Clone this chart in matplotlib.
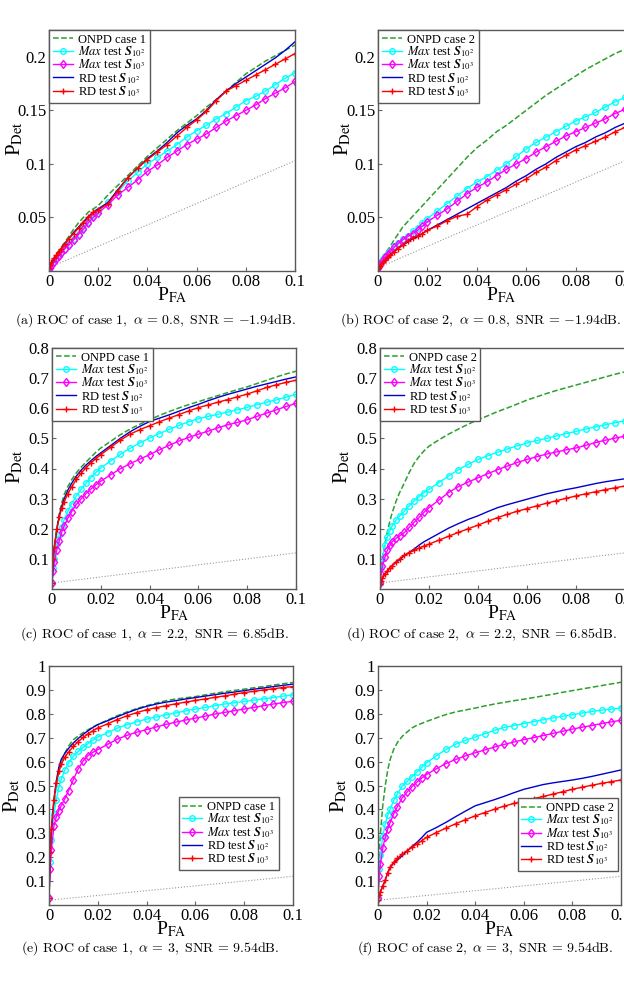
import matplotlib
matplotlib.use('Agg')
import matplotlib.pyplot as plt

plt.rcParams['font.family'] = ['Liberation Serif', 'DejaVu Serif']
plt.rcParams['mathtext.fontset'] = 'stix'

# false alarm probability grid (shared by every curve)
pfa = [0, 0.0005, 0.001, 0.002, 0.003, 0.004, 0.005, 0.0065, 0.008, 0.01, 0.012, 0.014,
       0.016, 0.018, 0.02, 0.024, 0.028, 0.032, 0.036, 0.04, 0.044, 0.048, 0.052, 0.056,
       0.06, 0.064, 0.068, 0.072, 0.076, 0.08, 0.084, 0.088, 0.092, 0.096, 0.1]

# (a) case 1, alpha = 0.8
onpd_a = [0.003, 0.006, 0.008, 0.012, 0.016, 0.019, 0.022, 0.027, 0.032, 0.039, 0.045, 0.050,
          0.055, 0.058, 0.061, 0.071, 0.080, 0.089, 0.098, 0.107, 0.115, 0.123, 0.131, 0.138,
          0.145, 0.153, 0.160, 0.168, 0.176, 0.184, 0.190, 0.196, 0.201, 0.206, 0.211]
max2_a = [0.002, 0.004, 0.006, 0.009, 0.012, 0.015, 0.018, 0.021, 0.025, 0.030, 0.035, 0.040,
          0.046, 0.051, 0.056, 0.064, 0.074, 0.084, 0.092, 0.100, 0.106, 0.112, 0.118, 0.125,
          0.131, 0.136, 0.142, 0.147, 0.153, 0.159, 0.163, 0.168, 0.174, 0.180, 0.185]
max3_a = [0.002, 0.003, 0.005, 0.008, 0.011, 0.014, 0.017, 0.021, 0.024, 0.029, 0.034, 0.039,
          0.045, 0.050, 0.054, 0.062, 0.071, 0.078, 0.085, 0.093, 0.099, 0.106, 0.112, 0.118,
          0.123, 0.128, 0.134, 0.140, 0.145, 0.150, 0.155, 0.161, 0.166, 0.171, 0.177]
rd2_a = [0.003, 0.005, 0.007, 0.011, 0.015, 0.018, 0.021, 0.026, 0.030, 0.036, 0.041, 0.046,
         0.051, 0.055, 0.058, 0.064, 0.076, 0.087, 0.096, 0.105, 0.112, 0.120, 0.129, 0.136,
         0.142, 0.150, 0.160, 0.168, 0.175, 0.181, 0.187, 0.193, 0.199, 0.206, 0.214]
rd3_a = [0.003, 0.006, 0.008, 0.012, 0.015, 0.018, 0.021, 0.025, 0.030, 0.035, 0.040, 0.045,
         0.050, 0.055, 0.057, 0.063, 0.075, 0.087, 0.096, 0.104, 0.111, 0.118, 0.126, 0.134,
         0.141, 0.149, 0.159, 0.168, 0.173, 0.178, 0.183, 0.188, 0.193, 0.198, 0.203]

# (b) case 2, alpha = 0.8
onpd_b = [0.005, 0.008, 0.010, 0.013, 0.017, 0.020, 0.023, 0.029, 0.034, 0.041, 0.046, 0.051,
          0.056, 0.061, 0.066, 0.076, 0.086, 0.096, 0.106, 0.115, 0.122, 0.130, 0.136, 0.143,
          0.150, 0.157, 0.164, 0.170, 0.176, 0.182, 0.188, 0.193, 0.198, 0.203, 0.207]
max2_b = [0.004, 0.006, 0.008, 0.011, 0.014, 0.017, 0.019, 0.023, 0.026, 0.030, 0.033, 0.037,
          0.040, 0.045, 0.049, 0.056, 0.063, 0.070, 0.077, 0.083, 0.088, 0.094, 0.100, 0.107,
          0.114, 0.120, 0.125, 0.130, 0.135, 0.140, 0.144, 0.148, 0.153, 0.158, 0.162]
max3_b = [0.003, 0.005, 0.007, 0.010, 0.013, 0.016, 0.018, 0.022, 0.025, 0.029, 0.032, 0.035,
          0.038, 0.042, 0.046, 0.052, 0.058, 0.065, 0.072, 0.078, 0.083, 0.089, 0.095, 0.100,
          0.105, 0.111, 0.116, 0.121, 0.126, 0.130, 0.134, 0.138, 0.142, 0.147, 0.151]
rd2_b = [0.003, 0.004, 0.005, 0.008, 0.010, 0.013, 0.015, 0.018, 0.021, 0.024, 0.027, 0.030,
         0.032, 0.035, 0.038, 0.043, 0.048, 0.053, 0.058, 0.063, 0.068, 0.073, 0.078, 0.084,
         0.089, 0.095, 0.100, 0.106, 0.111, 0.116, 0.120, 0.125, 0.129, 0.134, 0.138]
rd3_b = [0.003, 0.004, 0.005, 0.008, 0.010, 0.013, 0.015, 0.018, 0.021, 0.024, 0.028, 0.031,
         0.033, 0.035, 0.038, 0.042, 0.047, 0.051, 0.053, 0.060, 0.066, 0.071, 0.076, 0.081,
         0.086, 0.092, 0.097, 0.103, 0.108, 0.113, 0.117, 0.121, 0.125, 0.130, 0.134]

# (c) case 1, alpha = 2.2
onpd_c = [0.02, 0.10, 0.14, 0.20, 0.25, 0.285, 0.314, 0.340, 0.362, 0.386, 0.405, 0.422,
          0.438, 0.454, 0.468, 0.490, 0.512, 0.531, 0.547, 0.562, 0.576, 0.589, 0.601, 0.612,
          0.622, 0.632, 0.642, 0.652, 0.662, 0.671, 0.682, 0.693, 0.704, 0.714, 0.723]
max2_c = [0.02, 0.07, 0.10, 0.15, 0.18, 0.205, 0.23, 0.258, 0.282, 0.309, 0.332, 0.352,
          0.370, 0.387, 0.402, 0.425, 0.447, 0.467, 0.485, 0.501, 0.516, 0.530, 0.543, 0.555,
          0.565, 0.573, 0.580, 0.587, 0.595, 0.603, 0.612, 0.620, 0.628, 0.637, 0.646]
max3_c = [0.02, 0.06, 0.09, 0.13, 0.16, 0.19, 0.210, 0.235, 0.256, 0.281, 0.300, 0.317,
          0.332, 0.346, 0.358, 0.379, 0.399, 0.416, 0.431, 0.446, 0.462, 0.477, 0.491, 0.503,
          0.514, 0.524, 0.535, 0.545, 0.553, 0.562, 0.573, 0.584, 0.595, 0.606, 0.616]
rd2_c = [0.02, 0.10, 0.14, 0.20, 0.245, 0.275, 0.300, 0.328, 0.350, 0.375, 0.395, 0.412,
         0.426, 0.440, 0.452, 0.476, 0.500, 0.522, 0.540, 0.556, 0.567, 0.578, 0.590, 0.602,
         0.613, 0.625, 0.636, 0.646, 0.655, 0.664, 0.673, 0.681, 0.689, 0.697, 0.704]
rd3_c = [0.02, 0.10, 0.14, 0.20, 0.24, 0.268, 0.290, 0.316, 0.338, 0.364, 0.385, 0.403,
         0.419, 0.433, 0.446, 0.470, 0.494, 0.514, 0.529, 0.542, 0.555, 0.567, 0.579, 0.591,
         0.602, 0.611, 0.620, 0.629, 0.638, 0.647, 0.658, 0.669, 0.678, 0.686, 0.693]

# (d) case 2, alpha = 2.2
onpd_d = [0.02, 0.07, 0.10, 0.15, 0.19, 0.225, 0.254, 0.290, 0.320, 0.353, 0.388, 0.418,
          0.440, 0.459, 0.474, 0.495, 0.514, 0.531, 0.547, 0.562, 0.575, 0.589, 0.601, 0.614,
          0.627, 0.638, 0.649, 0.659, 0.668, 0.677, 0.686, 0.695, 0.704, 0.713, 0.721]
max2_d = [0.02, 0.07, 0.10, 0.145, 0.172, 0.193, 0.210, 0.228, 0.242, 0.259, 0.277, 0.293,
          0.307, 0.320, 0.331, 0.353, 0.375, 0.396, 0.414, 0.430, 0.442, 0.454, 0.465, 0.475,
          0.485, 0.493, 0.500, 0.508, 0.516, 0.523, 0.531, 0.538, 0.545, 0.552, 0.558]
max3_d = [0.02, 0.05, 0.075, 0.105, 0.128, 0.145, 0.157, 0.168, 0.176, 0.188, 0.205, 0.222,
          0.238, 0.255, 0.270, 0.295, 0.320, 0.340, 0.355, 0.369, 0.383, 0.396, 0.408, 0.420,
          0.430, 0.439, 0.448, 0.455, 0.462, 0.468, 0.477, 0.486, 0.494, 0.501, 0.507]
rd2_d = [0.015, 0.025, 0.035, 0.050, 0.060, 0.070, 0.078, 0.088, 0.097, 0.111, 0.122, 0.133,
         0.146, 0.157, 0.166, 0.184, 0.202, 0.217, 0.231, 0.243, 0.257, 0.270, 0.280, 0.289,
         0.298, 0.307, 0.316, 0.323, 0.330, 0.336, 0.343, 0.350, 0.356, 0.361, 0.366]
rd3_d = [0.015, 0.025, 0.035, 0.050, 0.060, 0.070, 0.078, 0.090, 0.100, 0.113, 0.121, 0.128,
         0.136, 0.143, 0.149, 0.162, 0.175, 0.188, 0.200, 0.212, 0.225, 0.237, 0.248, 0.258,
         0.267, 0.276, 0.285, 0.293, 0.301, 0.309, 0.316, 0.323, 0.330, 0.336, 0.342]

# (e) case 1, alpha = 3
onpd_e = [0.03, 0.20, 0.30, 0.42, 0.50, 0.555, 0.595, 0.635, 0.665, 0.692, 0.707, 0.721,
          0.733, 0.745, 0.755, 0.774, 0.792, 0.808, 0.822, 0.834, 0.845, 0.855, 0.862, 0.867,
          0.872, 0.879, 0.886, 0.892, 0.898, 0.903, 0.909, 0.914, 0.920, 0.926, 0.931]
max2_e = [0.03, 0.18, 0.27, 0.38, 0.44, 0.49, 0.526, 0.565, 0.593, 0.623, 0.643, 0.660,
          0.675, 0.690, 0.703, 0.721, 0.740, 0.755, 0.767, 0.778, 0.787, 0.796, 0.804, 0.812,
          0.820, 0.827, 0.834, 0.841, 0.846, 0.852, 0.857, 0.862, 0.868, 0.874, 0.879]
max3_e = [0.03, 0.15, 0.23, 0.33, 0.37, 0.395, 0.415, 0.445, 0.478, 0.525, 0.570, 0.603,
          0.625, 0.639, 0.650, 0.672, 0.694, 0.710, 0.723, 0.734, 0.745, 0.756, 0.765, 0.774,
          0.782, 0.790, 0.799, 0.806, 0.813, 0.820, 0.827, 0.834, 0.841, 0.847, 0.852]
rd2_e = [0.03, 0.22, 0.32, 0.44, 0.52, 0.575, 0.609, 0.635, 0.655, 0.678, 0.697, 0.714,
         0.729, 0.743, 0.755, 0.771, 0.788, 0.804, 0.819, 0.831, 0.841, 0.849, 0.855, 0.862,
         0.868, 0.874, 0.880, 0.886, 0.891, 0.897, 0.903, 0.908, 0.914, 0.919, 0.924]
rd3_e = [0.03, 0.22, 0.32, 0.44, 0.51, 0.56, 0.588, 0.618, 0.640, 0.664, 0.684, 0.701,
         0.716, 0.729, 0.741, 0.758, 0.776, 0.792, 0.805, 0.817, 0.826, 0.834, 0.842, 0.849,
         0.856, 0.862, 0.869, 0.875, 0.882, 0.889, 0.894, 0.900, 0.905, 0.910, 0.914]

# (f) case 2, alpha = 3
onpd_f = [0.03, 0.22, 0.30, 0.42, 0.50, 0.565, 0.609, 0.652, 0.680, 0.706, 0.724, 0.741,
          0.752, 0.760, 0.768, 0.783, 0.797, 0.808, 0.816, 0.824, 0.833, 0.841, 0.848, 0.855,
          0.861, 0.868, 0.875, 0.882, 0.890, 0.897, 0.904, 0.911, 0.918, 0.925, 0.932]
max2_f = [0.03, 0.15, 0.21, 0.29, 0.34, 0.375, 0.401, 0.438, 0.466, 0.498, 0.518, 0.537,
          0.556, 0.576, 0.595, 0.624, 0.651, 0.673, 0.689, 0.703, 0.717, 0.731, 0.743, 0.751,
          0.759, 0.767, 0.775, 0.783, 0.790, 0.796, 0.803, 0.810, 0.815, 0.820, 0.824]
max3_f = [0.03, 0.12, 0.17, 0.24, 0.285, 0.318, 0.345, 0.382, 0.412, 0.449, 0.473, 0.495,
          0.514, 0.531, 0.546, 0.570, 0.592, 0.609, 0.624, 0.637, 0.649, 0.661, 0.672, 0.682,
          0.692, 0.700, 0.709, 0.718, 0.727, 0.736, 0.744, 0.751, 0.759, 0.766, 0.773]
rd2_f = [0.02, 0.04, 0.055, 0.08, 0.105, 0.135, 0.158, 0.175, 0.188, 0.207, 0.226, 0.245,
         0.262, 0.282, 0.304, 0.324, 0.346, 0.370, 0.393, 0.415, 0.428, 0.441, 0.455, 0.470,
         0.484, 0.494, 0.504, 0.511, 0.517, 0.523, 0.530, 0.538, 0.547, 0.556, 0.565]
rd3_f = [0.02, 0.04, 0.055, 0.08, 0.105, 0.135, 0.158, 0.180, 0.195, 0.214, 0.227, 0.241,
         0.255, 0.269, 0.283, 0.303, 0.322, 0.340, 0.357, 0.373, 0.387, 0.401, 0.414, 0.425,
         0.436, 0.445, 0.454, 0.464, 0.474, 0.484, 0.493, 0.501, 0.509, 0.516, 0.523]

# dotted reference line end points
ref_x = [0, 0.1]
ref_low = [0.003, 0.103]
ref_high = [0.02, 0.12]

captions = [
    r'$\mathrm{(a)\ ROC\ of\ case\ 1,}\ \alpha\, =\, 0.8,\ \mathrm{SNR}\, =\, {-}1.94\mathrm{dB.}$',
    r'$\mathrm{(b)\ ROC\ of\ case\ 2,}\ \alpha\, =\, 0.8,\ \mathrm{SNR}\, =\, {-}1.94\mathrm{dB.}$',
    r'$\mathrm{(c)\ ROC\ of\ case\ 1,}\ \alpha\, =\, 2.2,\ \mathrm{SNR}\, =\, 6.85\mathrm{dB.}$',
    r'$\mathrm{(d)\ ROC\ of\ case\ 2,}\ \alpha\, =\, 2.2,\ \mathrm{SNR}\, =\, 6.85\mathrm{dB.}$',
    r'$\mathrm{(e)\ ROC\ of\ case\ 1,}\ \alpha\, =\, 3,\ \mathrm{SNR}\, =\, 9.54\mathrm{dB.}$',
    r'$\mathrm{(f)\ ROC\ of\ case\ 2,}\ \alpha\, =\, 3,\ \mathrm{SNR}\, =\, 9.54\mathrm{dB.}$',
]

panels = [
    (onpd_a, max2_a, max3_a, rd2_a, rd3_a, 1, ref_low),
    (onpd_b, max2_b, max3_b, rd2_b, rd3_b, 2, ref_low),
    (onpd_c, max2_c, max3_c, rd2_c, rd3_c, 1, ref_high),
    (onpd_d, max2_d, max3_d, rd2_d, rd3_d, 2, ref_high),
    (onpd_e, max2_e, max3_e, rd2_e, rd3_e, 1, ref_high),
    (onpd_f, max2_f, max3_f, rd2_f, rd3_f, 2, ref_high),
]

# axes boxes in pixels: left, top, right, bottom
W, H = 624, 983
boxes = [(49, 30, 295, 271), (378, 30, 625, 271),
         (52, 348, 296, 589), (380, 348, 625, 589),
         (49, 666, 293, 905), (378, 666, 621, 905)]
cap_pos = [(155, 320), (481, 320), (155, 634), (481, 634), (150, 948), (485, 948)]
ylab_pos = [(-0.098, 0.55), (-0.098, 0.55), (-0.11, 0.51), (-0.114, 0.51),
            (-0.11, 0.46), (-0.12, 0.46)]

ylims = [0.225, 0.225, 0.8, 0.8, 1.0, 1.0]
yticks = [[0.05, 0.1, 0.15, 0.2], [0.05, 0.1, 0.15, 0.2],
          [0.1, 0.2, 0.3, 0.4, 0.5, 0.6, 0.7, 0.8], [0.1, 0.2, 0.3, 0.4, 0.5, 0.6, 0.7, 0.8],
          [0.1, 0.2, 0.3, 0.4, 0.5, 0.6, 0.7, 0.8, 0.9, 1], [0.1, 0.2, 0.3, 0.4, 0.5, 0.6, 0.7, 0.8, 0.9, 1]]
xticks = [0, 0.02, 0.04, 0.06, 0.08, 0.1]
xticklabels = ['0', '0.02', '0.04', '0.06', '0.08', '0.1']

S = r'\mathbfit{S}'

fig = plt.figure(figsize=(W / 100, H / 100), dpi=100)

for i, (onpd, max2, max3, rd2, rd3, case, ref) in enumerate(panels):
    l, t, r, b = boxes[i]
    ax = fig.add_axes([l / W, 1 - b / H, (r - l) / W, (b - t) / H])
    ax.plot(ref_x, ref, ':', color='0.6', lw=0.8)
    ax.plot(pfa, onpd, '--', color='#2ca02c', lw=1.1, label='ONPD case %d' % case)
    ax.plot(pfa, max2, '-', color='cyan', lw=1.0, marker='o', ms=4, mfc='none', mew=1.0,
            label=r'$\mathit{Max}$ test $%s_{10^2}$' % S)
    ax.plot(pfa, max3, '-', color='magenta', lw=1.0, marker='d', ms=4.5, mfc='none', mew=1.0,
            label=r'$\mathit{Max}$ test $%s_{10^3}$' % S)
    ax.plot(pfa, rd2, '-', color='#0000cc', lw=1.0, label=r'RD test $%s_{10^2}$' % S)
    ax.plot(pfa, rd3, '-', color='red', lw=1.0, marker='+', ms=5, mew=1.0,
            label=r'RD test $%s_{10^3}$' % S)

    ax.set_xlim(0, 0.1)
    ax.set_ylim(0, ylims[i])
    ax.set_xticks(xticks)
    ax.set_xticklabels(xticklabels)
    ax.set_yticks(yticks[i])
    ax.set_yticklabels(['%g' % v for v in yticks[i]])
    ax.tick_params(direction='in', length=3, labelsize=12, pad=2, color='0.4')
    for s in ax.spines.values():
        s.set_color('0.35')
        s.set_linewidth(1.0)
    ax.set_xlabel(r'P$_{\mathrm{FA}}$', fontsize=14, labelpad=-3)
    ax.set_ylabel(r'P$_{\mathrm{Det}}$', fontsize=15)
    ax.yaxis.set_label_coords(*ylab_pos[i])

    kw = dict(fontsize=9, labelspacing=-0.12, handlelength=1.6, handletextpad=0.4,
              borderpad=0.3, fancybox=False, edgecolor='0.35', framealpha=1)
    if i < 4:
        leg = ax.legend(loc='upper left', borderaxespad=0, **kw)
    elif i == 4:
        leg = ax.legend(loc='lower right', bbox_to_anchor=(0.943, 0.146), borderaxespad=0, **kw)
    else:
        leg = ax.legend(loc='lower right', bbox_to_anchor=(0.988, 0.142), borderaxespad=0, **kw)
    leg.get_frame().set_linewidth(1.0)

    cx, cy = cap_pos[i]
    fig.text(cx / W, 1 - cy / H, captions[i], ha='center', va='center', fontsize=10,
             math_fontfamily='cm')

fig.savefig('out.png', dpi=100)
